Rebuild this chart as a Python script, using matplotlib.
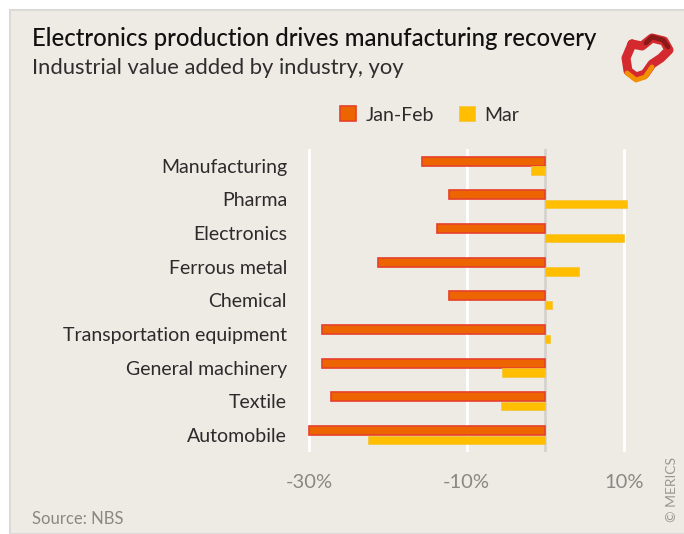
import numpy as np
import matplotlib.pyplot as plt
from matplotlib.patches import Rectangle
from matplotlib.lines import Line2D

industries = ['Manufacturing', 'Pharma', 'Electronics', 'Ferrous metal', 'Chemical',
              'Transportation equipment', 'General machinery', 'Textile', 'Automobile']
jan_feb = [-15.7, -12.3, -13.8, -21.2, -12.3, -28.3, -28.3, -27.2, -30.0]
mar = [-1.9, 10.3, 10.0, 4.2, 0.8, 0.6, -5.5, -5.6, -22.5]
ticks = [-30, -10, 10]
tick_labels = ['-30%', '-10%', '10%']

plt.rcParams['font.family'] = ['Lato', 'DejaVu Sans']

W, H = 684, 534
fig = plt.figure(figsize=(W / 100, H / 100), dpi=100)
fig.patch.set_facecolor('white')

# beige panel
fig.patches.append(Rectangle((10 / W, 0), 1, 1 - 10 / H, transform=fig.transFigure,
                             facecolor='#eeeae4', edgecolor='#dcdad6', lw=1.5, zorder=-5))

ax = fig.add_axes([299.5 / W, 1 - 452 / H, 340.6 / W, 303 / H])
ax.set_facecolor('none')
y = np.arange(len(industries))
ax.barh(y - 0.135, jan_feb, height=0.27, color='#ec6500', edgecolor='#e5402a', lw=1.2, zorder=3,
        label='Jan-Feb')
ax.barh(y + 0.135, mar, height=0.25, color='#ffbf00', edgecolor='#f5c33a', lw=0.5, zorder=3,
        label='Mar')
for t in ticks:
    ax.axvline(t, color='white', lw=2, zorder=1)
ax.axvline(0, color='#d6d3ce', lw=2, zorder=2)
ax.set_xlim(-31.2, 12)
ax.set_ylim(8.5, -0.5)
ax.set_xticks(ticks)
ax.set_xticklabels(tick_labels, fontsize=14.5, color='#8a8784')
ax.set_yticks(y)
ax.set_yticklabels(industries, fontsize=14, color='#2b2b2b')
ax.tick_params(length=0, axis='x', pad=16)
ax.tick_params(length=0, axis='y', pad=9)
for s in ax.spines.values():
    s.set_visible(False)

ax.legend(loc='center', bbox_to_anchor=(430 / W, 1 - 115 / H), bbox_transform=fig.transFigure,
          ncol=2, frameon=False, fontsize=14, handlelength=0.8, handleheight=0.8,
          columnspacing=1.3, handletextpad=0.5, labelcolor='#2b2b2b')

fig.text(32 / W, 1 - 38 / H, 'Electronics production drives manufacturing recovery',
         fontsize=17.2, color='#111111', va='center', fontweight='medium')
fig.text(32 / W, 1 - 68 / H, 'Industrial value added by industry, yoy',
         fontsize=15.8, color='#2e2e2e', va='center')
fig.text(32 / W, 1 - 519 / H, 'Source: NBS', fontsize=12, color='#8a8784', va='center')
fig.text(672 / W, 1 - 490 / H, '© MERICS', fontsize=10, color='#9a9794', rotation=90,
         ha='center', va='center')

# rough logo
ring = [(632, 44), (642, 46), (652, 38), (664, 41), (669, 50), (661, 58), (652, 64),
        (645, 74), (636, 77), (628, 71), (626, 58), (632, 44)]
fig.add_artist(Line2D([p[0] / W for p in ring], [1 - p[1] / H for p in ring],
                      transform=fig.transFigure, color='#d42a2f', lw=6.5,
                      solid_joinstyle='round', solid_capstyle='round'))
lower = [(652, 67), (645, 77), (636, 80), (627, 73)]
fig.add_artist(Line2D([p[0] / W for p in lower], [1 - p[1] / H for p in lower],
                      transform=fig.transFigure, color='#f29000', lw=3.5,
                      solid_joinstyle='round', solid_capstyle='round'))
top = [(646, 43), (652, 37), (663, 40), (668, 47)]
fig.add_artist(Line2D([p[0] / W for p in top], [1 - p[1] / H for p in top],
                      transform=fig.transFigure, color='#8a1a1a', lw=3.5,
                      solid_joinstyle='round', solid_capstyle='round'))

fig.savefig('out.png', dpi=100)
